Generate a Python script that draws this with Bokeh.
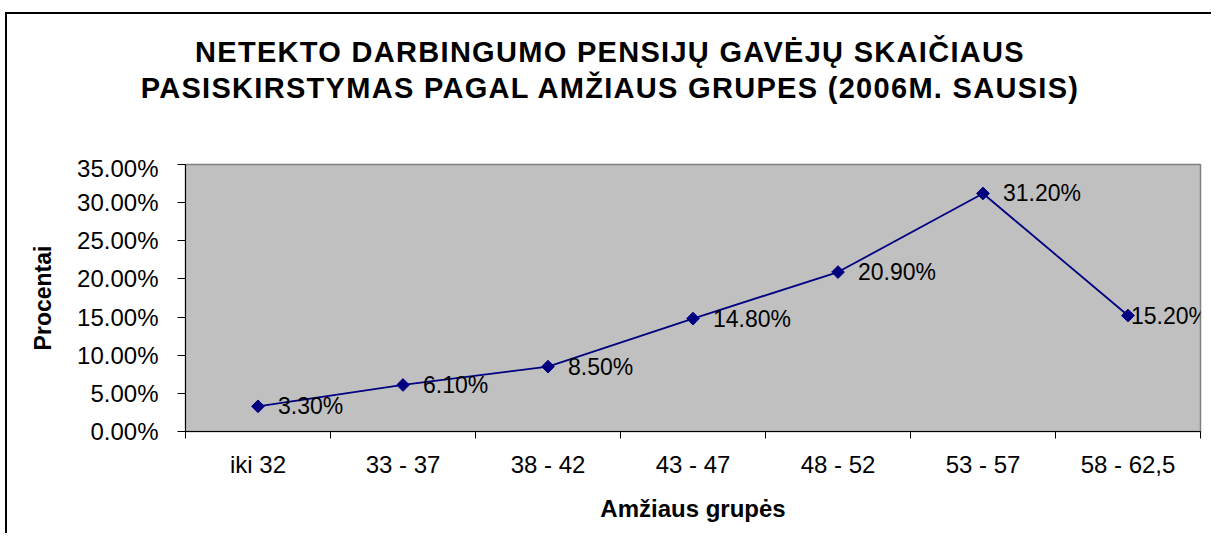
import math
from bokeh.plotting import figure
from bokeh.layouts import column
from bokeh.models import (FixedTicker, NumeralTickFormatter, Range1d, Div,
                          ColumnDataSource, LabelSet)
from bokeh.core.properties import value
from bokeh.embed import file_html
from bokeh.resources import INLINE

categories = ["iki 32", "33 - 37", "38 - 42", "43 - 47", "48 - 52", "53 - 57", "58 - 62,5"]
values = [0.033, 0.061, 0.085, 0.148, 0.209, 0.312, 0.152]
value_labels = ["3.30%", "6.10%", "8.50%", "14.80%", "20.90%", "31.20%", "15.20%"]
y_ticks = [0, 0.05, 0.10, 0.15, 0.20, 0.25, 0.30, 0.35]
title_lines = ["NETEKTO DARBINGUMO PENSIJŲ GAVĖJŲ SKAIČIAUS",
               "PASISKIRSTYMAS PAGAL AMŽIAUS GRUPES (2006M. SAUSIS)"]

FONT = "Liberation Sans"
W = 1206

xs = [i + 0.5 for i in range(len(categories))]
label_dx = [20, 20, 20, 20, 20, 20, 3]

src = ColumnDataSource(dict(x=xs, y=values, lab=value_labels, dx=label_dx))

title_div = Div(
    text=('<div style="width:1206px;text-align:center;font-family:\'Liberation Sans\';'
          'font-weight:bold;font-size:29px;line-height:36px;padding-top:20px;'
          'letter-spacing:1.3px;color:black">'
          + "<br>".join(title_lines) + "</div>"),
    width=W, height=140, margin=0)

p = figure(width=W, height=381, output_backend="svg", toolbar_location=None,
           x_range=Range1d(0, len(categories)), y_range=Range1d(0, 0.35),
           min_border_left=178, min_border_right=13, min_border_top=10,
           min_border_bottom=104, margin=0)
p.background_fill_color = "#C0C0C0"
p.border_fill_color = "white"
p.outline_line_color = "#808080"
p.outline_line_width = 1.5
p.grid.visible = False

# x axis
p.xaxis.ticker = FixedTicker(ticks=xs, minor_ticks=list(range(len(categories) + 1)))
p.xaxis.major_label_overrides = {x: c for x, c in zip(xs, categories)}
p.xaxis.major_tick_out = 0
p.xaxis.major_tick_in = 0
p.xaxis.minor_tick_out = 7
p.xaxis.minor_tick_in = 0
p.xaxis.minor_tick_line_color = "black"
p.xaxis.axis_line_color = "black"
p.xaxis.major_label_text_font = FONT
p.xaxis.major_label_text_font_size = "24px"
p.xaxis.major_label_text_color = "black"
p.xaxis.major_label_standoff = 12
p.xaxis.axis_label = "Amžiaus grupės"
p.xaxis.axis_label_text_font = FONT
p.xaxis.axis_label_text_font_size = "24px"
p.xaxis.axis_label_text_font_style = "bold"
p.xaxis.axis_label_text_color = "black"
p.xaxis.axis_label_standoff = 14

# y axis
p.yaxis.ticker = FixedTicker(ticks=y_ticks, minor_ticks=[])
p.yaxis.formatter = NumeralTickFormatter(format="0.00%")
p.yaxis.major_tick_out = 8
p.yaxis.major_tick_in = 0
p.yaxis.major_tick_line_color = "black"
p.yaxis.axis_line_color = "black"
p.yaxis.major_label_text_font = FONT
p.yaxis.major_label_text_font_size = "24px"
p.yaxis.major_label_text_color = "black"
p.yaxis.major_label_standoff = 19
p.yaxis.axis_label = "Procentai"
p.yaxis.axis_label_text_font = FONT
p.yaxis.axis_label_text_font_size = "23px"
p.yaxis.axis_label_text_font_style = "bold"
p.yaxis.axis_label_text_color = "black"
p.yaxis.axis_label_standoff = 18

p.line("x", "y", source=src, line_color="#000080", line_width=1.8)
p.scatter("x", "y", source=src, marker="square", size=9, angle=math.pi / 4,
          fill_color="#000080", line_color="#000080")

labels = LabelSet(x="x", y="y", text="lab", source=src, x_offset="dx",
                  text_font=value(FONT), text_font_size="23px", text_color="black",
                  text_baseline="middle", text_align="left")
p.add_layout(labels)

layout = column(title_div, p, spacing=0)
layout.styles = {"box-shadow": "-2px -2px 0 0 black",
                 "margin-left": "7px", "margin-top": "14px"}

open("out.html", "w").write(file_html(layout, INLINE))
